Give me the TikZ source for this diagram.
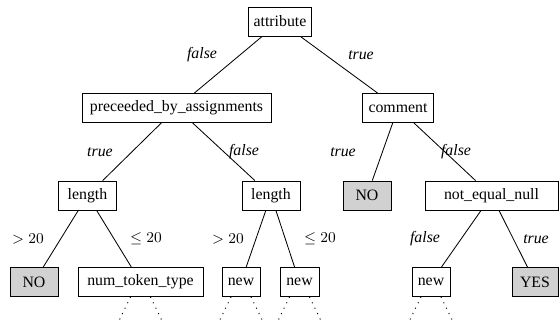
\documentclass[tikz,border=0pt]{standalone}
\usepackage{fontspec}
\setmainfont{Liberation Serif}
\usepackage{tikz}
\usetikzlibrary{positioning}
\definecolor{leafgray}{gray}{0.82}

\begin{document}
\begin{tikzpicture}[x=0.6pt, y=-0.6pt,
    every node/.style={font=\fontsize{9.5}{11}\selectfont},
    box/.style={draw, line width=0.5pt, minimum height=17.4pt, inner xsep=0pt},
    leaf/.style={box, fill=leafgray},
    lbl/.style={font=\fontsize{9.5}{11}\selectfont\itshape, inner sep=0pt},
    edge/.style={line width=0.5pt},
    cont/.style={line width=0.6pt, dash pattern=on 0.6pt off 3pt}]
    \useasboundingbox (0,0) rectangle (560,324);
    % decision nodes
    \foreach \n/\x/\y/\w/\t in {
      attr/280/21.5/63/attribute,
      pba/176.5/108/189/{preceeded\_by\_assignments},
      comm/398/108/71/comment,
      lenA/87.5/195.5/58/length,
      lenB/271/195.5/58/length,
      neq/491.5/195.5/133/{not\_equal\_null},
      ntt/140.5/282/125/{num\_token\_type},
      newA/241/282/38/new,
      newB/299.5/282/39/new,
      newC/431/282/38/new}{
      \node[box, minimum width=\w*0.6pt] (\n) at (\x,\y) {\t};
    }
    % leaves
    \foreach \n/\x/\y/\w/\t in {
      noA/367/195.5/48/NO,
      noB/34/282/48/NO,
      yes/535/282/46/YES}{
      \node[leaf, minimum width=\w*0.6pt] (\n) at (\x,\y) {\t};
    }
    \foreach \a/\b in {attr/pba, attr/comm, pba/lenA, pba/lenB, comm/noA, comm/neq,
      lenA/noB, lenA/ntt, lenB/newA, lenB/newB, neq/newC, neq/yes}{
      \draw[edge] (\a) -- (\b);
    }
    % branch labels
    \node[lbl] (lA) at (202,55) {false};
    \node[lbl] (lB) at (361,55) {true};
    \node[lbl] (lC) at (100,152) {true};
    \node[lbl] (lD) at (244,152) {false};
    \node[lbl] (lE) at (343,152) {true};
    \node[lbl] (lF) at (456,152) {false};
    \node[lbl, font=\fontsize{9.5}{11}\selectfont] (lG) at (28,239) {$>20$};
    \node[lbl, font=\fontsize{9.5}{11}\selectfont] (lH) at (146,239) {$\leq 20$};
    \node[lbl, font=\fontsize{9.5}{11}\selectfont] (lI) at (228,239) {$>20$};
    \node[lbl, font=\fontsize{9.5}{11}\selectfont] (lJ) at (320,239) {$\leq 20$};
    \node[lbl] (lK) at (425,239) {false};
    \node[lbl] (lL) at (536,239) {true};
    % subtrees left out
    \foreach \n in {ntt, newA, newB, newC}{
      \draw[cont] ([xshift=-6pt]\n.south) -- ++(-13,27);
      \draw[cont] ([xshift=6pt]\n.south) -- ++(13,27);
    }
  \end{tikzpicture}
\end{document}
